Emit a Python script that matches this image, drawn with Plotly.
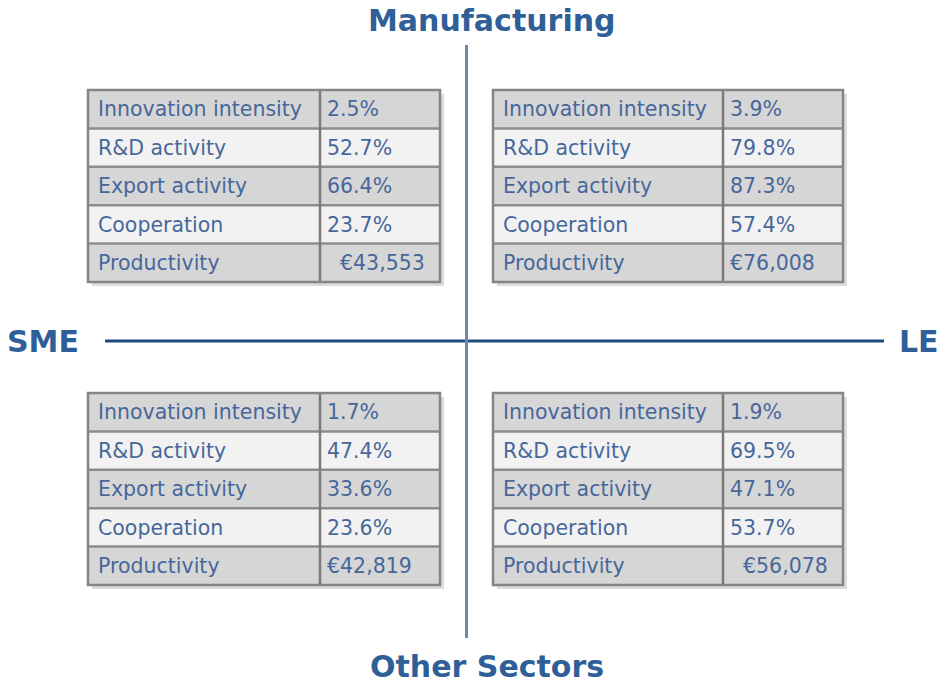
import plotly.graph_objects as go

# ---- data ----
metrics = ["Innovation intensity", "R&D activity", "Export activity", "Cooperation", "Productivity"]
manufacturing_sme = ["2.5%", "52.7%", "66.4%", "23.7%", "\u00a0\u00a0€43,553"]
manufacturing_le = ["3.9%", "79.8%", "87.3%", "57.4%", "€76,008"]
other_sme = ["1.7%", "47.4%", "33.6%", "23.6%", "€42,819"]
other_le = ["1.9%", "69.5%", "47.1%", "53.7%", "\u00a0\u00a0€56,078"]
axis_labels = {"top": "Manufacturing", "bottom": "Other Sectors", "left": "SME", "right": "LE"}

# ---- layout constants (pixels) ----
W, H = 942, 686
ROW_H = 38.4
tables = [
    # (values, left, divider, right, top)
    (manufacturing_sme, 88, 320, 440, 90),
    (manufacturing_le, 493, 723, 843, 90),
    (other_sme, 88, 320, 440, 393),
    (other_le, 493, 723, 843, 393),
]
FILL_DARK = "#d6d6d6"
FILL_LIGHT = "#f2f2f2"
BORDER = "#8c8c8c"
TEXT = "#47679a"
LABEL = "#2f5f98"
FONT = "DejaVu Sans, Arial, sans-serif"

shapes = []
tx, ty, tt = [], [], []
for vals, x0, xd, x1, y0 in tables:
    n = len(metrics)
    y1 = y0 + n * ROW_H
    # shadow
    shapes.append(dict(type="rect", x0=x0 + 4, x1=x1 + 4, y0=y0 + 4, y1=y1 + 4,
                       fillcolor="#dcdcdc", line=dict(width=0)))
    for i in range(n):
        ra = y0 + i * ROW_H
        rb = ra + ROW_H
        fill = FILL_DARK if i % 2 == 0 else FILL_LIGHT
        shapes.append(dict(type="rect", x0=x0, x1=x1, y0=ra, y1=rb,
                           fillcolor=fill, line=dict(width=0)))
        tx += [x0 + 10, xd + 7]
        ty += [(ra + rb) / 2 + 2, (ra + rb) / 2 + 2]
        tt += [metrics[i], vals[i]]
    # grid lines
    for i in range(1, n):
        yy = y0 + i * ROW_H
        shapes.append(dict(type="line", x0=x0, x1=x1, y0=yy, y1=yy, line=dict(color=BORDER, width=2.5)))
    shapes.append(dict(type="line", x0=xd, x1=xd, y0=y0, y1=y1, line=dict(color="#7a7a7a", width=2.5)))
    shapes.append(dict(type="rect", x0=x0, x1=x1, y0=y0, y1=y1, line=dict(color="#858585", width=2.5)))

# axes cross
shapes.append(dict(type="line", x0=105, x1=884, y0=341, y1=341, line=dict(color="#1f4a80", width=3)))
shapes.append(dict(type="line", x0=466.5, x1=466.5, y0=45, y1=638, line=dict(color="#6b8bb3", width=3)))
for s in shapes:
    s["layer"] = "below"

fig = go.Figure()
fig.add_trace(go.Scatter(x=tx, y=ty, text=tt, mode="text", textposition="middle right",
                         textfont=dict(family=FONT, size=20.5, color=TEXT), hoverinfo="skip",
                         showlegend=False, cliponaxis=False))

annotations = [
    dict(x=492, y=20, text=axis_labels["top"]),
    dict(x=487, y=666, text=axis_labels["bottom"]),
    dict(x=43, y=341, text=axis_labels["left"]),
    dict(x=919, y=341, text=axis_labels["right"]),
]
for a in annotations:
    a.update(xref="x", yref="y", showarrow=False, xanchor="center", yanchor="middle",
             font=dict(family="DejaVu Sans, Arial, sans-serif", size=30, color=LABEL),
             text="<b>" + a["text"] + "</b>")

fig.update_layout(
    width=W, height=H, margin=dict(l=0, r=0, t=0, b=0),
    paper_bgcolor="white", plot_bgcolor="rgba(0,0,0,0)",
    xaxis=dict(range=[0, W], visible=False, fixedrange=True),
    yaxis=dict(range=[H, 0], visible=False, fixedrange=True),
    shapes=shapes, annotations=annotations, showlegend=False,
)
fig.write_html("out.html", config={"displayModeBar": False},
               post_script="document.body.style.margin='0';")
